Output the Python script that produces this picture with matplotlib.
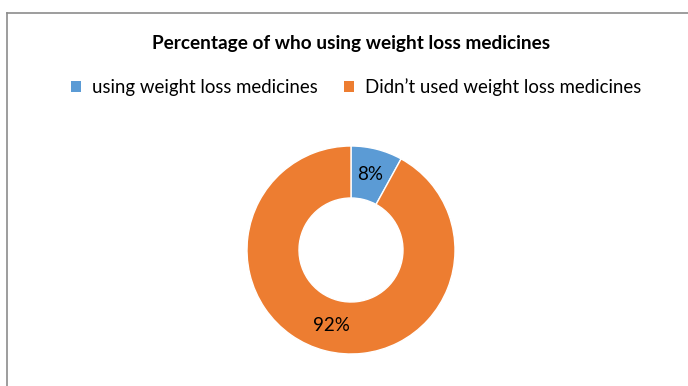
import matplotlib.pyplot as plt
from matplotlib.patches import Patch
from matplotlib.lines import Line2D

plt.rcParams['font.family'] = ['Lato', 'DejaVu Sans']

labels = ['using weight loss medicines', 'Didn\u2019t used weight loss medicines']
values = [8, 92]
colors = ['#5B9BD5', '#ED7D31']
title = 'Percentage of who using weight loss medicines'

fig = plt.figure(figsize=(6.88, 3.86), dpi=100)

# chart area frame (top and left edges only show)
fig.add_artist(Line2D([7 / 688, 7 / 688], [0, 1 - 13 / 386], color='#8c8c8c', lw=1.2,
                      transform=fig.transFigure))
fig.add_artist(Line2D([7 / 688, 1], [1 - 13 / 386, 1 - 13 / 386], color='#8c8c8c', lw=1.2,
                      transform=fig.transFigure))

ax = fig.add_axes([247 / 688, 32 / 386, 208 / 688, 208 / 386])
wedges, texts, autotexts = ax.pie(values, colors=colors, startangle=90, counterclock=False,
                                  radius=1, autopct='%d%%', pctdistance=0.75,
                                  wedgeprops=dict(width=0.5, edgecolor='white', linewidth=1),
                                  textprops=dict(fontsize=13.5, color='#000000'))
ax.set_xlim(-1, 1)
ax.set_ylim(-1, 1)
ax.set_aspect('equal')
ax.axis('off')

fig.text(351 / 688, 1 - 43 / 386, title, ha='center', va='center', fontsize=13.7,
         fontweight='bold')

handles = [Patch(facecolor=c, edgecolor='none') for c in colors]
fig.legend(handles, labels, loc='center', bbox_to_anchor=(356 / 688, 1 - 87 / 386), ncol=2,
           frameon=False, fontsize=13.4, handlelength=0.55, handleheight=0.55,
           handletextpad=0.55, columnspacing=1.45)

fig.savefig('out.png', dpi=100)
